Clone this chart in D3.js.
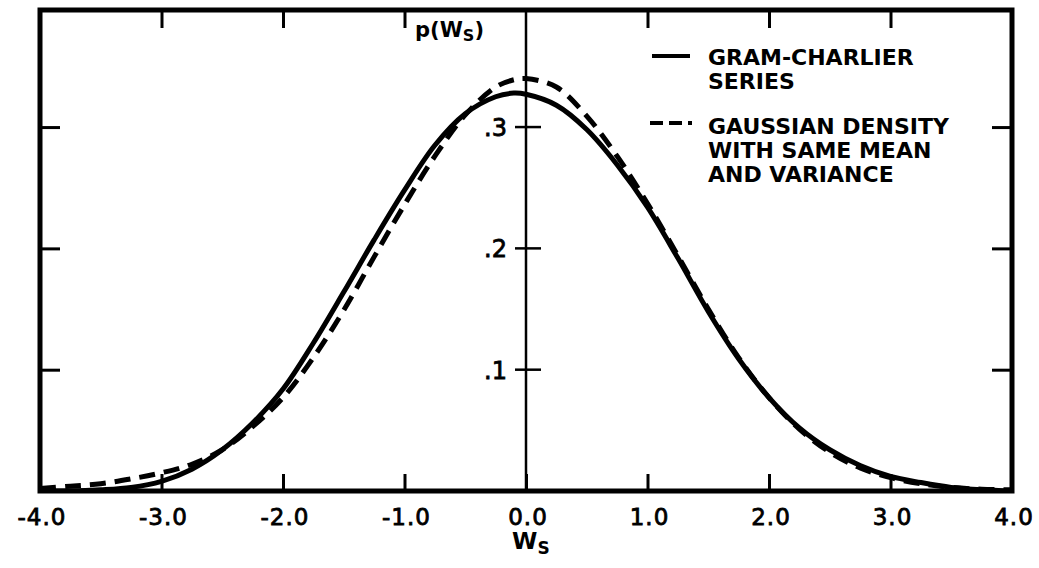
<!DOCTYPE html>
<html>
<head>
<meta charset="utf-8">
<script src="https://cdn.jsdelivr.net/npm/d3@7"></script>
<style>
  html, body { margin: 0; padding: 0; background: #fff; }
  svg { display: block; }
  text { font-family: "DejaVu Sans", sans-serif; fill: #000; }
</style>
</head>
<body>
<svg id="chart" width="1039" height="568"></svg>
<script>
// ---- data ----
const wValues = [-4.0,-3.75,-3.5,-3.25,-3.0,-2.75,-2.5,-2.25,-2.0,-1.75,-1.5,-1.25,-1.0,-0.75,-0.5,-0.25,-0.1,0.0,0.25,0.5,0.75,1.0,1.25,1.5,1.75,2.0,2.25,2.5,2.75,3.0,3.25,3.5,3.75,4.0];
const gramCharlier = [0.000,0.000,0.001,0.003,0.008,0.018,0.034,0.056,0.084,0.122,0.164,0.207,0.248,0.285,0.311,0.325,0.328,0.327,0.318,0.298,0.269,0.234,0.192,0.148,0.109,0.077,0.052,0.034,0.021,0.012,0.007,0.003,0.001,0.000];
const gaussian     = [0.002,0.004,0.006,0.010,0.015,0.022,0.034,0.053,0.077,0.110,0.149,0.193,0.236,0.276,0.310,0.333,0.339,0.340,0.333,0.309,0.276,0.237,0.194,0.150,0.110,0.077,0.051,0.032,0.019,0.011,0.006,0.003,0.0015,0.001];
const xTicks = [-4,-3,-2,-1,0,1,2,3,4];
const xTickLabels = ["-4.0","-3.0","-2.0","-1.0","0.0","1.0","2.0","3.0","4.0"];
const yTicks = [0.1,0.2,0.3];
const yTickLabels = [".1",".2",".3"];
const legendSolid = ["GRAM-CHARLIER","SERIES"];
const legendDashed = ["GAUSSIAN DENSITY","WITH SAME MEAN","AND VARIANCE"];

// ---- layout ----
const svg = d3.select("#chart");
const L = 40, R = 1012, T = 10, B = 491;
const x = d3.scaleLinear().domain([-4, 4]).range([L, R]);
const y = d3.scaleLinear().domain([0, 0.3965]).range([B, T]);

svg.append("defs").append("clipPath").attr("id","clip")
  .append("rect").attr("x", L).attr("y", T).attr("width", R - L).attr("height", B - T);

// frame ticks via axes
const inner = xTicks.filter(d => d > -4 && d < 4);
function styleAxis(g) {
  g.select(".domain").remove();
  g.selectAll(".tick line").attr("stroke", "#000").attr("stroke-width", 3);
}
svg.append("g").attr("transform", `translate(0,${B})`)
  .call(d3.axisBottom(x).tickValues(inner).tickSize(-17).tickFormat(""))
  .call(styleAxis);
svg.append("g").attr("transform", `translate(0,${T})`)
  .call(d3.axisTop(x).tickValues(inner.filter(d => d !== 0)).tickSize(-18).tickFormat(""))
  .call(styleAxis);
svg.append("g").attr("transform", `translate(${L},0)`)
  .call(d3.axisLeft(y).tickValues(yTicks).tickSize(-20).tickFormat(""))
  .call(styleAxis);
svg.append("g").attr("transform", `translate(${R},0)`)
  .call(d3.axisRight(y).tickValues(yTicks).tickSize(-20).tickFormat(""))
  .call(styleAxis);

// bottom tick labels
svg.append("g").selectAll("text").data(xTicks).join("text")
  .attr("x", (d) => x(d) + 2)
  .attr("y", 525)
  .attr("text-anchor", "middle")
  .attr("font-size", 23)
  .attr("stroke", "#000").attr("stroke-width", 0.8)
  .style("letter-spacing", "1px")
  .text((d, i) => xTickLabels[i]);

// central vertical axis
const x0 = x(0);
svg.append("line").attr("x1", x0).attr("x2", x0).attr("y1", T).attr("y2", B)
  .attr("stroke", "#000").attr("stroke-width", 2.5);
const cAxis = svg.append("g");
cAxis.selectAll("line").data(yTicks).join("line")
  .attr("x1", x0 - 11).attr("x2", x0 + 15)
  .attr("y1", d => y(d)).attr("y2", d => y(d))
  .attr("stroke", "#000").attr("stroke-width", 2.5);
cAxis.selectAll("text").data(yTicks).join("text")
  .attr("x", x0 - 19).attr("y", d => y(d) + 9)
  .attr("text-anchor", "end")
  .attr("font-size", 24)
  .attr("stroke", "#000").attr("stroke-width", 0.8)
  .text((d, i) => yTickLabels[i]);

// p(Ws) label
const pl = svg.append("text").attr("x", 484).attr("y", 37).attr("text-anchor", "end")
  .attr("font-size", 21).attr("font-weight", "bold");
pl.append("tspan").text("p(W");
pl.append("tspan").attr("font-size", 16).attr("dy", 4).text("S");
pl.append("tspan").attr("dy", -4).text(")");

// x axis title
const xl = svg.append("text").attr("x", x0 - 14).attr("y", 549).attr("font-size", 23).attr("font-weight", "bold");
xl.append("tspan").text("W");
xl.append("tspan").attr("font-size", 17).attr("dy", 5).text("S");

// curves
const line = d3.line().x((d) => x(d[0])).y((d) => y(d[1])).curve(d3.curveCatmullRom.alpha(0.5));
const curves = svg.append("g").attr("clip-path", "url(#clip)");
curves.append("path").datum(wValues.map((w, i) => [w, gaussian[i]]))
  .attr("d", line).attr("fill", "none").attr("stroke", "#000")
  .attr("stroke-width", 5).attr("stroke-dasharray", "16,9");
curves.append("path").datum(wValues.map((w, i) => [w, gramCharlier[i]]))
  .attr("d", line).attr("fill", "none").attr("stroke", "#000")
  .attr("stroke-width", 5);

// frame
svg.append("rect").attr("x", L).attr("y", T).attr("width", R - L).attr("height", B - T)
  .attr("fill", "none").attr("stroke", "#000").attr("stroke-width", 5);

// legend
const lg = svg.append("g");
lg.append("line").attr("x1", 652).attr("x2", 690).attr("y1", 56).attr("y2", 56)
  .attr("stroke", "#000").attr("stroke-width", 4);
lg.append("line").attr("x1", 650).attr("x2", 692).attr("y1", 123).attr("y2", 123)
  .attr("stroke", "#000").attr("stroke-width", 4).attr("stroke-dasharray", "13,6");
lg.selectAll("text.s").data(legendSolid).join("text").attr("class", "s")
  .attr("x", 708).attr("y", (d, i) => 65 + i * 24)
  .attr("font-size", 22).attr("font-weight", "bold").text(d => d);
lg.selectAll("text.d").data(legendDashed).join("text").attr("class", "d")
  .attr("x", 708).attr("y", (d, i) => 134 + i * 24)
  .attr("font-size", 22).attr("font-weight", "bold").text(d => d);
</script>
</body>
</html>
